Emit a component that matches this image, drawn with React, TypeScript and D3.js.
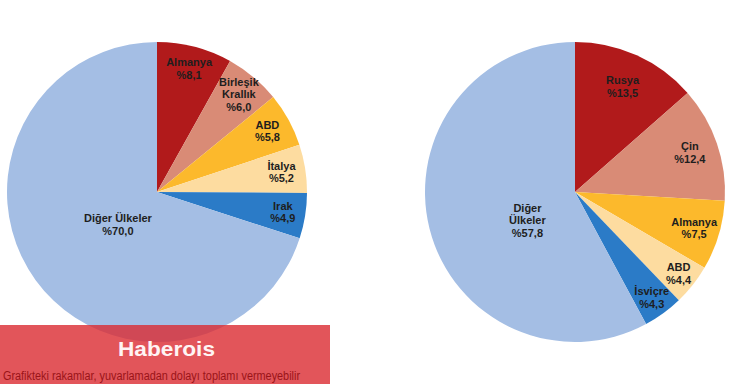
import React from "react";
import * as d3 from "d3";

const leftCategories = ["Almanya", "Birleşik Krallık", "ABD", "İtalya", "Irak", "Diğer Ülkeler"];
const leftValues = [8.1, 6.0, 5.8, 5.2, 4.9, 70.0];
const leftLabelLines = [["Almanya"], ["Birleşik", "Krallık"], ["ABD"], ["İtalya"], ["Irak"], ["Diğer Ülkeler"]];
const leftValueLabels = ["%8,1", "%6,0", "%5,8", "%5,2", "%4,9", "%70,0"];

const rightCategories = ["Rusya", "Çin", "Almanya", "ABD", "İsviçre", "Diğer Ülkeler"];
const rightValues = [13.5, 12.4, 7.5, 4.4, 4.3, 57.8];
const rightLabelLines = [["Rusya"], ["Çin"], ["Almanya"], ["ABD"], ["İsviçre"], ["Diğer", "Ülkeler"]];
const rightValueLabels = ["%13,5", "%12,4", "%7,5", "%4,4", "%4,3", "%57,8"];

const sliceColors = ["#B11A1B", "#D98B76", "#FCB92C", "#FDDCA0", "#2B7BC7", "#A4BEE4"];

const W = 730;
const H = 384;
const R = 150;

// label placement (layout, not data): radius fraction per slice, and override for the large slice
const leftLabelRadius = [0.85, 0.85, 0.84, 0.84, 0.85, 0.34];
const rightLabelRadius = [0.77, 0.81, 0.83, 0.88, 0.87, 0.37];
const leftBigAngle = 230;
const rightBigAngle = 239;

function Pie({ cx, cy, values, lines, valueLabels, radiusFrac, bigAngle }: any) {
  const pie = d3.pie<number>().sort(null).value((d) => d);
  const arcs = pie(values);
  const arc = d3.arc<d3.PieArcDatum<number>>().innerRadius(0).outerRadius(R);
  const lh = 12.6;
  return (
    <g transform={`translate(${cx},${cy})`}>
      {arcs.map((a, i) => (
        <path key={i} d={arc(a) || ""} fill={sliceColors[i]} />
      ))}
      {arcs.map((a, i) => {
        let ang = (a.startAngle + a.endAngle) / 2;
        if (i === arcs.length - 1) ang = (bigAngle * Math.PI) / 180;
        const r = radiusFrac[i] * R;
        const x = r * Math.sin(ang);
        const y = -r * Math.cos(ang);
        const all = [...lines[i], valueLabels[i]];
        const y0 = y - ((all.length - 1) * lh) / 2;
        return (
          <text
            key={"t" + i}
            x={x}
            textAnchor="middle"
            fontFamily="'Liberation Sans', Arial, sans-serif"
            fontWeight="bold"
            fontSize={11}
            fill="#1E1E1E"
          >
            {all.map((s: string, j: number) => (
              <tspan key={j} x={x} y={y0 + j * lh} dy="0.35em">
                {s}
              </tspan>
            ))}
          </text>
        );
      })}
    </g>
  );
}

export default function App() {
  return (
    <svg
      width={W}
      height={H}
      style={{ position: "absolute", left: 0, top: 0, background: "#fff" }}
    >
      <rect width={W} height={H} fill="#fff" />
      <Pie
        cx={157}
        cy={192}
        values={leftValues}
        lines={leftLabelLines}
        valueLabels={leftValueLabels}
        radiusFrac={leftLabelRadius}
        bigAngle={leftBigAngle}
      />
      <Pie
        cx={575}
        cy={192}
        values={rightValues}
        lines={rightLabelLines}
        valueLabels={rightValueLabels}
        radiusFrac={rightLabelRadius}
        bigAngle={rightBigAngle}
      />
      <rect x={0} y={325} width={330} height={59} fill="rgb(219,43,49)" fillOpacity={0.8} />
      <text
        x={166.5}
        y={356}
        textAnchor="middle"
        fontFamily="'Liberation Sans', Arial, sans-serif"
        fontWeight="bold"
        fontSize={21}
        fill="#FFF4F4"
        textLength={97}
        lengthAdjust="spacingAndGlyphs"
      >
        Haberois
      </text>
      <text
        x={3}
        y={380}
        fontFamily="'Liberation Sans', Arial, sans-serif"
        fontSize={12.5}
        fill="#9A1418"
        textLength={297}
        lengthAdjust="spacingAndGlyphs"
      >
        Grafikteki rakamlar, yuvarlamadan dolayı toplamı vermeyebilir
      </text>
    </svg>
  );
}
